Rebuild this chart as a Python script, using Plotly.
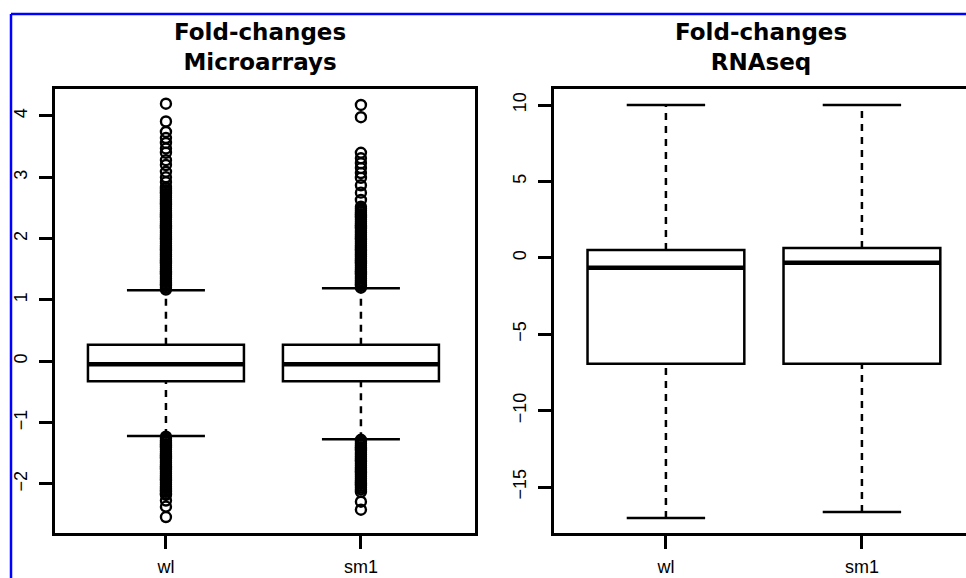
import plotly.graph_objects as go

# ---------------- data ----------------
categories = ["wl", "sm1"]

# Microarrays fold-changes (box statistics)
micro_q1 = [-0.325, -0.325]
micro_median = [-0.05, -0.05]
micro_q3 = [0.27, 0.27]
micro_lower = [-1.22, -1.27]
micro_upper = [1.16, 1.19]

# Microarrays outliers
wl_outliers = [
    1.17, 1.20, 1.23, 1.26, 1.29, 1.32, 1.35, 1.38, 1.41, 1.44, 1.47, 1.50, 1.53,
    1.56, 1.59, 1.62, 1.65, 1.68, 1.71, 1.74, 1.77, 1.80, 1.83, 1.86, 1.89, 1.92,
    1.95, 1.98, 2.01, 2.04, 2.07, 2.10, 2.13, 2.16, 2.19, 2.22, 2.25, 2.28, 2.31,
    2.34, 2.37, 2.40, 2.43, 2.46, 2.49, 2.52, 2.55, 2.58, 2.61, 2.64, 2.67, 2.70,
    2.73, 2.76, 2.79, 2.82, 2.84, 2.92, 3.00, 3.09, 3.20, 3.28, 3.40, 3.47, 3.56,
    3.64, 3.74, 3.91, 4.20,
    -1.23, -1.26, -1.29, -1.32, -1.35, -1.38, -1.41, -1.44, -1.47, -1.50, -1.53,
    -1.56, -1.59, -1.62, -1.65, -1.68, -1.71, -1.74, -1.77, -1.80, -1.83, -1.86,
    -1.89, -1.92, -1.95, -1.98, -2.01, -2.04, -2.07, -2.10, -2.13, -2.16, -2.18,
    -2.27, -2.37, -2.54,
]
sm1_outliers = [
    1.20, 1.23, 1.26, 1.29, 1.32, 1.35, 1.38, 1.41, 1.44, 1.47, 1.50, 1.53, 1.56,
    1.59, 1.62, 1.65, 1.68, 1.71, 1.74, 1.77, 1.80, 1.83, 1.86, 1.89, 1.92, 1.95,
    1.98, 2.01, 2.04, 2.07, 2.10, 2.13, 2.16, 2.19, 2.22, 2.25, 2.28, 2.31, 2.34,
    2.37, 2.40, 2.43, 2.46, 2.49, 2.52, 2.63, 2.75, 2.87, 2.99, 3.07, 3.15, 3.23,
    3.31, 3.40, 3.98, 4.18,
    -1.28, -1.31, -1.34, -1.37, -1.40, -1.43, -1.46, -1.49, -1.52, -1.55, -1.58,
    -1.61, -1.64, -1.67, -1.70, -1.73, -1.76, -1.79, -1.82, -1.85, -1.88, -1.91,
    -1.94, -1.97, -2.00, -2.03, -2.06, -2.09, -2.13, -2.29, -2.42,
]
micro_outliers = [wl_outliers, sm1_outliers]

# RNAseq fold-changes (box statistics)
rna_q1 = [-6.94, -6.94]
rna_median = [-0.65, -0.33]
rna_q3 = [0.52, 0.65]
rna_lower = [-17.03, -16.63]
rna_upper = [10.0, 10.0]

micro_ticks = [-2, -1, 0, 1, 2, 3, 4]
rna_ticks = [-15, -10, -5, 0, 5, 10]

titles = ["Fold-changes<br>Microarrays", "Fold-changes<br>RNAseq"]

# ---------------- styling ----------------
W, H = 966, 578
BOX_W = 0.8
LW = 2.5
TITLE_FONT = "DejaVu Sans, Liberation Sans, sans-serif"
TICK_FONT = "Liberation Sans, Arial, sans-serif"

fig = go.Figure()


def add_panel(xref, yref, q1, med, q3, lo, up, outliers=None):
    for i, cat in enumerate(categories):
        p = i + 1
        # box
        fig.add_trace(go.Box(
            x=[p], q1=[q1[i]], median=[med[i]], q3=[q3[i]],
            lowerfence=[q1[i]], upperfence=[q3[i]],
            width=BOX_W, whiskerwidth=0,
            line=dict(color="black", width=LW), fillcolor="white",
            boxpoints=False, showlegend=False, hoverinfo="skip",
            xaxis=xref, yaxis=yref,
        ))
        # thick median
        fig.add_trace(go.Scatter(
            x=[p - BOX_W / 2, p + BOX_W / 2], y=[med[i], med[i]],
            mode="lines", line=dict(color="black", width=4.5),
            showlegend=False, hoverinfo="skip", xaxis=xref, yaxis=yref,
        ))
        # dashed whiskers
        fig.add_trace(go.Scatter(
            x=[p, p, None, p, p], y=[q3[i], up[i], None, lo[i], q1[i]],
            mode="lines", line=dict(color="black", width=LW, dash="7px,6px"),
            showlegend=False, hoverinfo="skip", xaxis=xref, yaxis=yref,
        ))
        # caps
        fig.add_trace(go.Scatter(
            x=[p - BOX_W / 4, p + BOX_W / 4, None, p - BOX_W / 4, p + BOX_W / 4],
            y=[up[i], up[i], None, lo[i], lo[i]],
            mode="lines", line=dict(color="black", width=LW),
            showlegend=False, hoverinfo="skip", xaxis=xref, yaxis=yref,
        ))
        if outliers is not None:
            fig.add_trace(go.Scatter(
                x=[p] * len(outliers[i]), y=outliers[i], mode="markers",
                marker=dict(symbol="circle-open", size=10, color="black",
                            line=dict(width=2.4, color="black")),
                showlegend=False, hoverinfo="skip", xaxis=xref, yaxis=yref,
            ))


add_panel("x", "y", micro_q1, micro_median, micro_q3, micro_lower, micro_upper,
          micro_outliers)
add_panel("x2", "y2", rna_q1, rna_median, rna_q3, rna_lower, rna_upper)

axis_common = dict(
    showgrid=False, zeroline=False, showline=True, linecolor="black",
    linewidth=LW, ticks="outside", ticklen=13, tickwidth=LW, tickcolor="black",
    automargin=False,
    tickfont=dict(family=TICK_FONT, size=18, color="black"),
)

fig.update_layout(
    width=W, height=H,
    margin=dict(l=0, r=0, t=0, b=0, autoexpand=False),
    paper_bgcolor="white", plot_bgcolor="white",
    showlegend=False,
    xaxis=dict(domain=[55 / W, 475 / W], range=[0.431, 2.585],
               tickvals=[1, 2], ticktext=categories, mirror=True,
               anchor="y", ticklabelstandoff=3, **axis_common),
    yaxis=dict(domain=[1 - 533 / H, 1 - 89 / H], range=[-2.80, 4.44],
               tickvals=micro_ticks, tickangle=-90, mirror=True,
               anchor="x", ticklabelstandoff=5, **axis_common),
    xaxis2=dict(domain=[554 / W, 1.0], range=[0.429, 2.531],
                tickvals=[1, 2], ticktext=categories, mirror=True,
                anchor="y2", ticklabelstandoff=3, **axis_common),
    yaxis2=dict(domain=[1 - 533 / H, 1 - 89 / H], range=[-18.01, 11.05],
                tickvals=rna_ticks, tickangle=-90, mirror=False,
                anchor="x2", ticklabelstandoff=5, **axis_common),
)

# titles
for cx, t in zip([260, 761], titles):
    fig.add_annotation(
        x=cx / W, y=1 - 47 / H, xref="paper", yref="paper",
        text="<b>" + t + "</b>", showarrow=False, xanchor="center",
        yanchor="middle", align="center",
        font=dict(family=TITLE_FONT, size=23, color="black"),
    )

# blue border of the figure panel
fig.add_shape(type="line", xref="paper", yref="paper",
              x0=11 / W, x1=11 / W, y0=0, y1=1 - 14 / H,
              line=dict(color="#0000ff", width=2.5))
fig.add_shape(type="line", xref="paper", yref="paper",
              x0=11 / W, x1=1, y0=1 - 14 / H, y1=1 - 14 / H,
              line=dict(color="#0000ff", width=2.5))

fig.write_html(
    "out.html",
    config={"displayModeBar": False},
    post_script="document.body.style.margin='0';"
                "document.body.style.overflow='hidden';",
)
